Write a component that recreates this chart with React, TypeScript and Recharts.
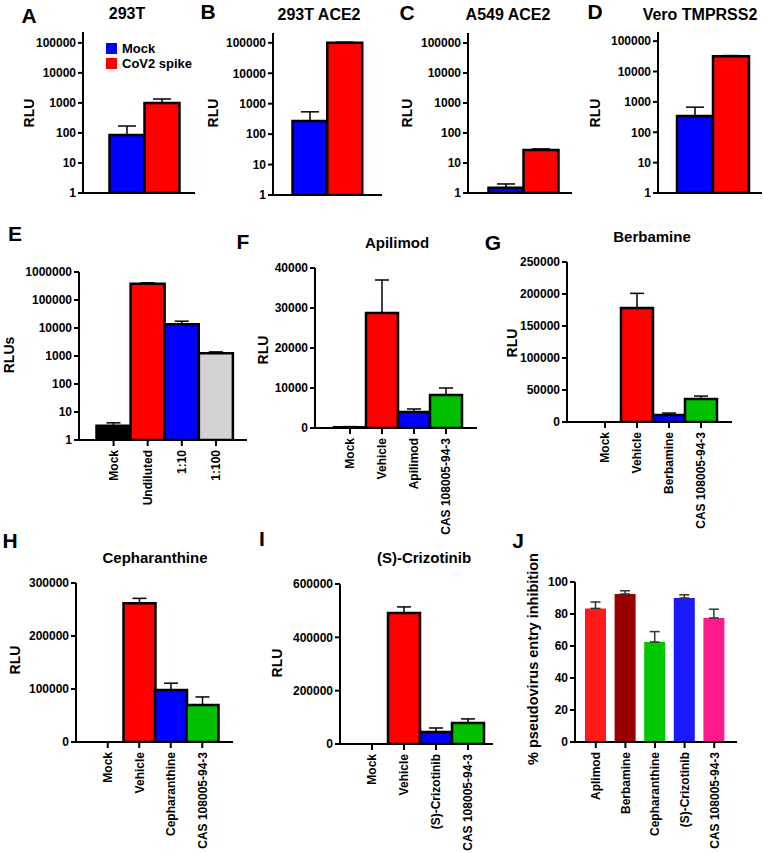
import React from "react";
import { BarChart, Bar, XAxis, YAxis, ErrorBar, Cell } from "recharts";

const FONT = '"Liberation Sans", Arial, Helvetica, sans-serif';

// A-D: luciferase readout per cell line (Mock vs CoV2 spike)
const pairLabels = ["Mock", "CoV2 spike"];
const pairColors = ["#0000ff", "#ff0000"];
const rlu293T = [85, 1000];
const err293T = [85, 350];
const rlu293TAce2 = [270, 100000];
const err293TAce2 = [270, 5000];
const rluA549Ace2 = [1.5, 27];
const errA549Ace2 = [0.5, 2.5];
const rluVero = [340, 32000];
const errVero = [330, 1500];
const logTicks5 = [1, 10, 100, 1000, 10000, 100000];

// E: virus dilution
const dilutionLabels = ["Mock", "Undiluted", "1:10", "1:100"];
const dilutionRlu = [3.2, 380000, 13500, 1250];
const dilutionErr = [0.9, 30000, 4000, 150];
const dilutionColors = ["#000000", "#ff0000", "#0000ff", "#d3d3d3"];
const logTicks6 = [1, 10, 100, 1000, 10000, 100000, 1000000];

// F-I: drug treatments
const treatColors = ["#000000", "#ff0000", "#0000ff", "#00c000"];
const apilimodLabels = ["Mock", "Vehicle", "Apilimod", "CAS 108005-94-3"];
const apilimodRlu = [200, 28750, 4000, 8250];
const apilimodErr = [150, 8250, 750, 1750];
const berbamineLabels = ["Mock", "Vehicle", "Berbamine", "CAS 108005-94-3"];
const berbamineRlu = [0, 178000, 11000, 36000];
const berbamineErr = [0, 23000, 3000, 4500];
const cephLabels = ["Mock", "Vehicle", "Cepharanthine", "CAS 108005-94-3"];
const cephRlu = [0, 262000, 98000, 70000];
const cephErr = [0, 9000, 13000, 15000];
const crizLabels = ["Mock", "Vehicle", "(S)-Crizotinib", "CAS 108005-94-3"];
const crizRlu = [0, 491000, 45000, 79000];
const crizErr = [0, 23000, 15000, 15000];

// J: % inhibition
const inhibitionLabels = ["Aplimod", "Berbamine", "Cepharanthine", "(S)-Crizotinib", "CAS 108005-94-3"];
const inhibitionPct = [83.5, 92.5, 62.5, 90, 77.5];
const inhibitionErr = [4, 2, 6.5, 2, 5.5];
const inhibitionColors = ["#ff1a1a", "#990000", "#00c800", "#1a1aff", "#ff1a8c"];

type Row = { name: string; value: number; err: [number, number] };

const toRows = (names: string[], vals: number[], errs: number[]): Row[] =>
  names.map((name, i) => ({ name, value: vals[i], err: [0, errs[i]] }));

const RotTick = (props: any) => {
  const { x, y, payload } = props;
  return (
    <g transform={`translate(${x},${y})`}>
      <text
        transform="rotate(-90)"
        x={-2}
        y={0}
        dy="0.36em"
        textAnchor="end"
        fontSize={12}
        fontWeight="bold"
        fontFamily={FONT}
        fill="#000"
      >
        {payload.value}
      </text>
    </g>
  );
};

type PanelProps = {
  rows: Row[];
  colors: string[];
  left: number;
  right: number;
  top: number;
  bottom: number;
  padL: number;
  padR: number;
  log?: boolean;
  domain: [number, number];
  ticks: number[];
  labels?: boolean;
  outline?: boolean;
  barSize?: number;
  cap: number;
};

function Panel(p: PanelProps) {
  const YW = 70;
  const MT = 8;
  const MR = 4;
  const XH = p.labels ? 110 : 12;
  const w = YW + (p.right - p.left) + MR;
  const h = MT + (p.bottom - p.top) + XH;
  return (
    <div style={{ position: "absolute", left: p.left - YW, top: p.top - MT }}>
      <BarChart
        width={w}
        height={h}
        data={p.rows}
        margin={{ top: MT, right: MR, left: 0, bottom: 0 }}
        barCategoryGap={0}
      >
        <XAxis
          dataKey="name"
          height={XH}
          padding={{ left: p.padL, right: p.padR }}
          axisLine={{ stroke: "#000", strokeWidth: 2 }}
          tickLine={{ stroke: "#000", strokeWidth: 2 }}
          tickSize={6}
          interval={0}
          tick={p.labels ? (props: any) => <RotTick {...props} /> : false}
        />
        <YAxis
          type="number"
          width={YW}
          scale={p.log ? "log" : "linear"}
          domain={p.domain}
          ticks={p.ticks}
          interval={0}
          allowDataOverflow
          axisLine={{ stroke: "#000", strokeWidth: 2 }}
          tickLine={{ stroke: "#000", strokeWidth: 2 }}
          tickSize={5}
          tickMargin={2}
          tick={{ fill: "#000", fontSize: 12, fontWeight: "bold", fontFamily: FONT }}
        />
        <Bar
          dataKey="value"
          isAnimationActive={false}
          barSize={p.barSize}
          stroke={p.outline === false ? "none" : "#000"}
          strokeWidth={p.outline === false ? 0 : 2.5}
        >
          {p.rows.map((r, i) => (
            <Cell key={r.name} fill={p.colors[i]} />
          ))}
          <ErrorBar
            dataKey="err"
            direction="y"
            width={p.cap}
            stroke={p.outline === false ? "#333" : "#000"}
            strokeWidth={1.5}
            isAnimationActive={false}
          />
        </Bar>
      </BarChart>
    </div>
  );
}

const Txt = ({
  x,
  y,
  size,
  bold = true,
  rotate = false,
  children,
}: {
  x: number;
  y: number;
  size: number;
  bold?: boolean;
  rotate?: boolean;
  children: React.ReactNode;
}) => (
  <div
    style={{
      position: "absolute",
      left: x,
      top: y,
      transform: `translate(-50%,-50%)${rotate ? " rotate(-90deg)" : ""}`,
      fontSize: size,
      fontWeight: bold ? 700 : 400,
      fontFamily: FONT,
      whiteSpace: "nowrap",
      lineHeight: 1,
      color: "#000",
    }}
  >
    {children}
  </div>
);

export default function App() {
  return (
    <div
      style={{
        position: "absolute",
        left: 0,
        top: 0,
        width: 764,
        height: 853,
        overflow: "hidden",
        background: "#fff",
      }}
    >
      {/* panel letters */}
      <Txt x={29} y={15} size={21}>A</Txt>
      <Txt x={208} y={11} size={21}>B</Txt>
      <Txt x={407} y={12} size={21}>C</Txt>
      <Txt x={595} y={11} size={21}>D</Txt>
      <Txt x={15} y={233} size={21}>E</Txt>
      <Txt x={243} y={241} size={21}>F</Txt>
      <Txt x={493} y={242} size={21}>G</Txt>
      <Txt x={10} y={540} size={21}>H</Txt>
      <Txt x={262} y={538} size={21}>I</Txt>
      <Txt x={518} y={540} size={21}>J</Txt>

      {/* titles */}
      <Txt x={127} y={14} size={16}>293T</Txt>
      <Txt x={319} y={15} size={16}>293T ACE2</Txt>
      <Txt x={508} y={15} size={16}>A549 ACE2</Txt>
      <Txt x={700} y={15} size={16}>Vero TMPRSS2</Txt>
      <Txt x={397} y={242} size={15}>Apilimod</Txt>
      <Txt x={652} y={236} size={15}>Berbamine</Txt>
      <Txt x={155} y={557} size={15}>Cepharanthine</Txt>
      <Txt x={424} y={557} size={15}>(S)-Crizotinib</Txt>

      {/* y labels */}
      <Txt x={29} y={113} size={14} rotate>RLU</Txt>
      <Txt x={213} y={113} size={14} rotate>RLU</Txt>
      <Txt x={407} y={113} size={14} rotate>RLU</Txt>
      <Txt x={595} y={113} size={14} rotate>RLU</Txt>
      <Txt x={9} y={355} size={14} rotate>RLUs</Txt>
      <Txt x={263} y={350} size={14} rotate>RLU</Txt>
      <Txt x={512} y={343} size={14} rotate>RLU</Txt>
      <Txt x={15} y={660} size={14} rotate>RLU</Txt>
      <Txt x={277} y={663} size={14} rotate>RLU</Txt>
      <Txt x={533} y={659} size={14.5} rotate>% pseudovirus entry inhibition</Txt>

      {/* legend of A */}
      <div style={{ position: "absolute", left: 106, top: 43, width: 11, height: 11, background: pairColors[0] }} />
      <div style={{ position: "absolute", left: 106, top: 58, width: 11, height: 11, background: pairColors[1] }} />
      <div style={{ position: "absolute", left: 122, top: 41, fontSize: 13, fontWeight: 700, fontFamily: FONT, lineHeight: "15px" }}>
        {pairLabels[0]}
      </div>
      <div style={{ position: "absolute", left: 122, top: 56, fontSize: 13, fontWeight: 700, fontFamily: FONT, lineHeight: "15px" }}>
        {pairLabels[1]}
      </div>

      <Panel rows={toRows(pairLabels, rlu293T, err293T)} colors={pairColors} left={83} right={195} top={32} bottom={193}
        padL={26.5} padR={15.5} log domain={[1, 230000]} ticks={logTicks5} cap={9} />
      <Panel rows={toRows(pairLabels, rlu293TAce2, err293TAce2)} colors={pairColors} left={273} right={382} top={33} bottom={195}
        padL={19.5} padR={20} log domain={[1, 210000]} ticks={logTicks5} cap={9} />
      <Panel rows={toRows(pairLabels, rluA549Ace2, errA549Ace2)} colors={pairColors} left={468} right={572} top={33} bottom={193}
        padL={20.5} padR={13.5} log domain={[1, 215000]} ticks={logTicks5} cap={9} />
      <Panel rows={toRows(pairLabels, rluVero, errVero)} colors={pairColors} left={658} right={762} top={32} bottom={193}
        padL={19} padR={13} log domain={[1, 200000]} ticks={logTicks5} cap={9} />

      <Panel rows={toRows(dilutionLabels, dilutionRlu, dilutionErr)} colors={dilutionColors} left={79} right={247} top={272} bottom={440}
        padL={17.5} padR={14} log domain={[1, 1000000]} ticks={logTicks6} labels cap={7} />
      <Panel rows={toRows(apilimodLabels, apilimodRlu, apilimodErr)} colors={treatColors} left={315} right={477} top={268} bottom={428}
        padL={19} padR={15} domain={[0, 40000]} ticks={[0, 10000, 20000, 30000, 40000]} labels cap={7} />
      <Panel rows={toRows(berbamineLabels, berbamineRlu, berbamineErr)} colors={treatColors} left={567} right={732} top={262} bottom={422}
        padL={22} padR={15} domain={[0, 250000]} ticks={[0, 50000, 100000, 150000, 200000, 250000]} labels cap={7} />
      <Panel rows={toRows(cephLabels, cephRlu, cephErr)} colors={treatColors} left={76} right={233} top={583} bottom={742}
        padL={16} padR={15} domain={[0, 300000]} ticks={[0, 100000, 200000, 300000]} labels cap={7} />
      <Panel rows={toRows(crizLabels, crizRlu, crizErr)} colors={treatColors} left={340} right={493} top={584} bottom={744}
        padL={16} padR={9} domain={[0, 600000]} ticks={[0, 200000, 400000, 600000]} labels cap={7} />
      <Panel rows={toRows(inhibitionLabels, inhibitionPct, inhibitionErr)} colors={inhibitionColors} left={575} right={737} top={582} bottom={742}
        padL={6} padR={8} domain={[0, 100]} ticks={[0, 20, 40, 60, 80, 100]} labels outline={false} barSize={21} cap={5} />
    </div>
  );
}
